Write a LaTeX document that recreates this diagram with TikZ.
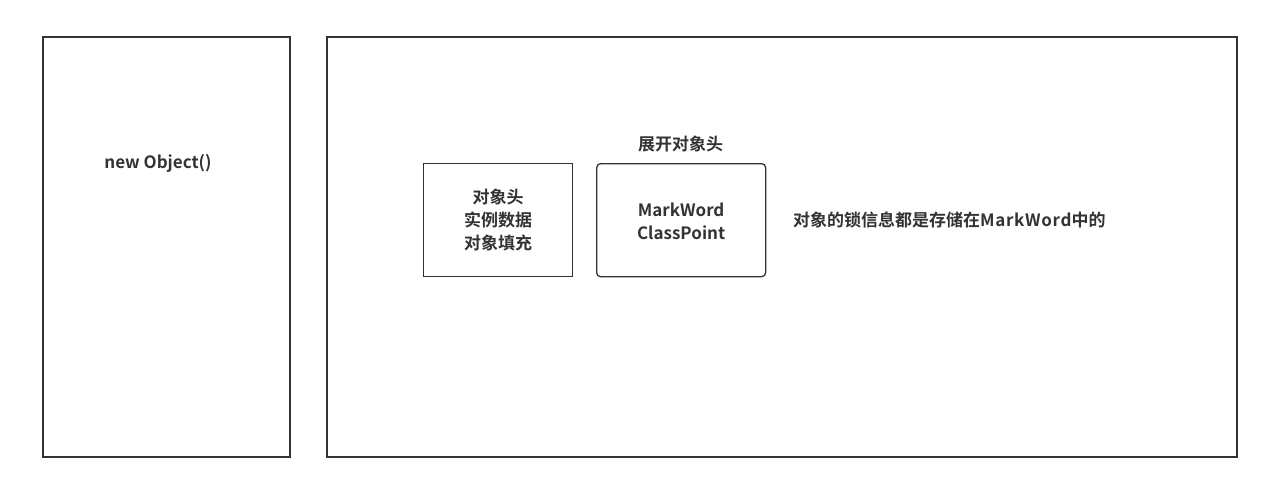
\documentclass[tikz,border=0pt]{standalone}
\usepackage{fontspec}
\setmainfont{Noto Sans CJK SC}[BoldFont={Noto Sans CJK SC Bold}]
\definecolor{ink}{HTML}{333333}
\tikzset{
  box/.style={draw=ink, line width=1.3pt, fill=none},
  lbl/.style={text=ink, font=\fontsize{17}{23}\selectfont\bfseries, align=center, inner sep=0pt},
}
\begin{document}
\begin{tikzpicture}[x=1pt,y=-1pt]
\useasboundingbox[fill=white] (0,0) rectangle (1272,490);
\draw[box] (43,37) rectangle (290,457);
\node[lbl] (obj) at (158,163) {new Object()};
\draw[box] (327,37) rectangle (1237,457);
\node[box, minimum width=149pt, minimum height=113pt, anchor=north west] (a) at (423,163) {};
\node[lbl] (at) at (a.center) {对象头\\实例数据\\对象填充};
\node[box, rounded corners=4pt, minimum width=169pt, minimum height=113pt, anchor=north west] (b) at (596,163) {};
\node[lbl] (bt) at ([yshift=-1pt]b.center) {MarkWord\\ClassPoint};
\node[lbl] (bh) at (680.5,144) {展开对象头};
\node[lbl, anchor=west] (note) at (793,220) {对象的锁信息都是存储在\addfontfeature{LetterSpace=4}MarkWord\addfontfeature{LetterSpace=0}中的};
\end{tikzpicture}
\end{document}
